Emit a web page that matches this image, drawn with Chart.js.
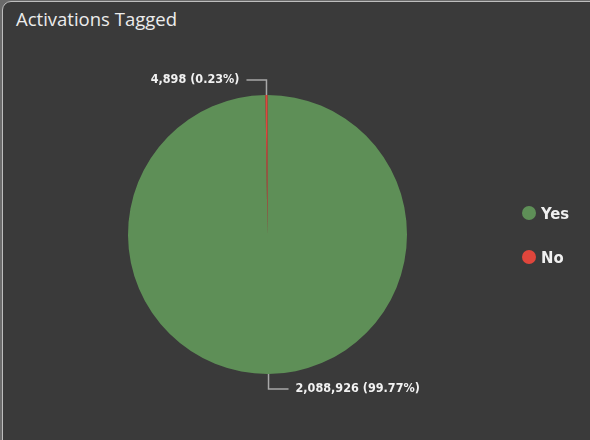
<!DOCTYPE html>
<html>
<head>
<meta charset="utf-8">
<script src="https://cdn.jsdelivr.net/npm/chart.js@4.4.1/dist/chart.umd.min.js"></script>
<style>
  html, body { margin:0; padding:0; width:590px; height:440px; overflow:hidden; background:#6a6a6a; }
  #card { position:absolute; left:2px; top:1px; width:600px; height:450px; background:#3a3a3a;
          border:1px solid #bdbdbd; border-radius:9px; box-sizing:border-box; }
  #title { position:absolute; left:16px; top:6px; font-family:"Open Sans", sans-serif; font-size:18.5px;
           color:#ececec; }
  #wrap { position:absolute; left:0; top:0; width:590px; height:440px; }
  #legend { position:absolute; left:522px; top:202px; font-family:"DejaVu Sans Condensed", sans-serif; font-weight:bold;
            font-size:16.5px; color:#f0f0f0; }
  .item { display:flex; align-items:center; height:22px; margin-bottom:22px; }
  .dot { width:14px; height:14px; border-radius:50%; margin-right:5px; }
</style>
</head>
<body>
<div id="card"></div>
<div id="title">Activations Tagged</div>
<div id="wrap"><canvas id="c" width="590" height="440"></canvas></div>
<div id="legend"></div>
<script>
const categories = ["Yes", "No"];
const values = [2088926, 4898];
const colors = ["#5e8f57", "#e0463c"];

const total = values.reduce((a, b) => a + b, 0);
function fmtLabel(v) {
  return v.toLocaleString("en-US") + " (" + (v / total * 100).toFixed(2) + "%)";
}

const leader = {
  id: "leader",
  afterDatasetsDraw(chart) {
    const ctx = chart.ctx;
    const meta = chart.getDatasetMeta(0);
    meta.data.forEach((arc, i) => {
      const p = arc.getProps(["x", "y", "startAngle", "endAngle", "outerRadius"], true);
      const mid = (p.startAngle + p.endAngle) / 2;
      const ex = p.x + Math.cos(mid) * p.outerRadius;
      const ey = p.y + Math.sin(mid) * p.outerRadius;
      const ky = ey + Math.sin(mid) * 15;
      const dir = Math.cos(mid) >= 0 ? 1 : -1;
      const kx = ex + dir * 20;
      ctx.save();
      ctx.strokeStyle = "#a8a8a8";
      ctx.lineWidth = 1.5;
      ctx.beginPath();
      ctx.moveTo(ex, ey);
      ctx.lineTo(ex, ky);
      ctx.lineTo(kx, ky);
      ctx.stroke();
      ctx.fillStyle = "#f2f2f2";
      ctx.font = "bold 12.5px 'DejaVu Sans Condensed', sans-serif";
      ctx.textBaseline = "middle";
      ctx.textAlign = dir > 0 ? "left" : "right";
      ctx.fillText(fmtLabel(values[i]), kx + dir * 7, ky);
      ctx.restore();
    });
  }
};

new Chart(document.getElementById("c"), {
  type: "pie",
  data: {
    labels: categories,
    datasets: [{ data: values, backgroundColor: colors, borderWidth: 0 }]
  },
  options: {
    responsive: false,
    animation: false,
    layout: { padding: { left: 128, right: 183, top: 95, bottom: 66 } },
    plugins: { legend: { display: false }, tooltip: { enabled: false } }
  },
  plugins: [leader]
});

const lg = document.getElementById("legend");
categories.forEach((c, i) => {
  const d = document.createElement("div");
  d.className = "item";
  d.innerHTML = '<span class="dot" style="background:' + colors[i] + '"></span>' + c;
  lg.appendChild(d);
});
</script>
</body>
</html>
